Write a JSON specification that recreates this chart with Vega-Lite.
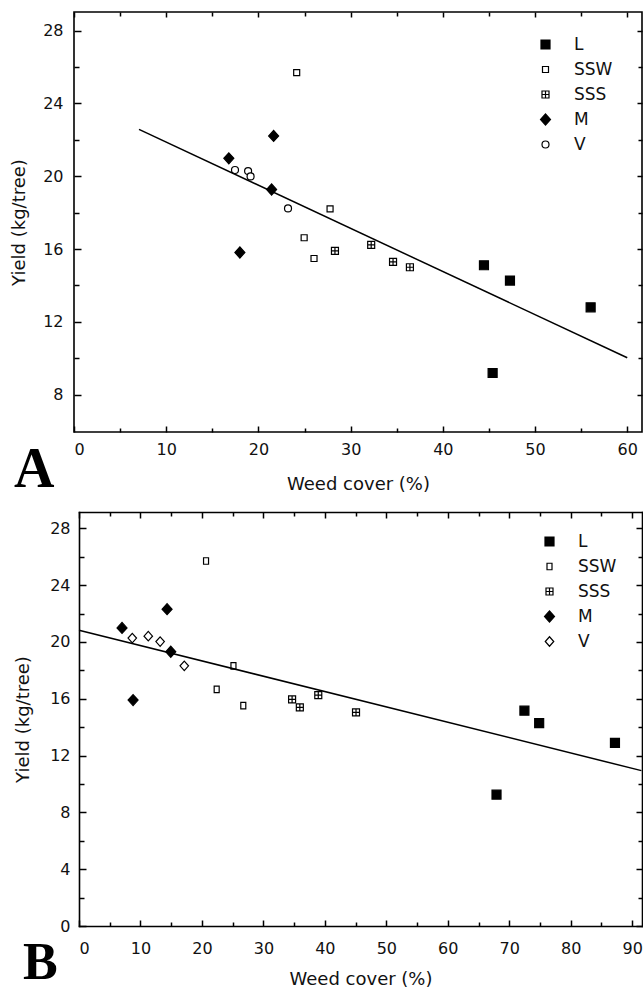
{
  "$schema": "https://vega.github.io/schema/vega-lite/v6.json",
  "padding": {"left": 9, "top": 10, "right": 1, "bottom": 0},
  "background": "white",
  "datasets": {
    "ptsA": [
      {"treatment": "L", "cover": 44.46, "yield": 15.11},
      {"treatment": "L", "cover": 47.28, "yield": 14.27},
      {"treatment": "L", "cover": 56.03, "yield": 12.8},
      {"treatment": "L", "cover": 45.4, "yield": 9.19},
      {"treatment": "SSW", "cover": 24.15, "yield": 25.69},
      {"treatment": "SSW", "cover": 27.77, "yield": 18.21},
      {"treatment": "SSW", "cover": 24.96, "yield": 16.62},
      {"treatment": "SSW", "cover": 26.03, "yield": 15.48},
      {"treatment": "SSS", "cover": 28.3, "yield": 15.9},
      {"treatment": "SSS", "cover": 32.23, "yield": 16.23},
      {"treatment": "SSS", "cover": 34.6, "yield": 15.3},
      {"treatment": "SSS", "cover": 36.43, "yield": 15.0},
      {"treatment": "M", "cover": 16.79, "yield": 20.98},
      {"treatment": "M", "cover": 21.65, "yield": 22.21},
      {"treatment": "M", "cover": 21.43, "yield": 19.27},
      {"treatment": "M", "cover": 17.99, "yield": 15.81},
      {"treatment": "V", "cover": 17.46, "yield": 20.34},
      {"treatment": "V", "cover": 18.88, "yield": 20.28},
      {"treatment": "V", "cover": 19.15, "yield": 19.99},
      {"treatment": "V", "cover": 23.21, "yield": 18.23}
    ],
    "ptsB": [
      {"treatment": "L", "cover": 72.47, "yield": 15.16},
      {"treatment": "L", "cover": 74.87, "yield": 14.29},
      {"treatment": "L", "cover": 87.2, "yield": 12.89},
      {"treatment": "L", "cover": 67.93, "yield": 9.25},
      {"treatment": "SSW", "cover": 20.67, "yield": 25.7},
      {"treatment": "SSW", "cover": 25.13, "yield": 18.32},
      {"treatment": "SSW", "cover": 22.4, "yield": 16.66},
      {"treatment": "SSW", "cover": 26.73, "yield": 15.51},
      {"treatment": "SSS", "cover": 34.67, "yield": 15.96},
      {"treatment": "SSS", "cover": 35.93, "yield": 15.39},
      {"treatment": "SSS", "cover": 38.93, "yield": 16.26},
      {"treatment": "SSS", "cover": 45.07, "yield": 15.04},
      {"treatment": "M", "cover": 7.0, "yield": 20.99},
      {"treatment": "M", "cover": 14.33, "yield": 22.31},
      {"treatment": "M", "cover": 14.93, "yield": 19.31},
      {"treatment": "M", "cover": 8.8, "yield": 15.91},
      {"treatment": "V", "cover": 8.67, "yield": 20.27},
      {"treatment": "V", "cover": 11.27, "yield": 20.41},
      {"treatment": "V", "cover": 13.2, "yield": 20.03},
      {"treatment": "V", "cover": 17.13, "yield": 18.32}
    ],
    "fitA": [
      {"cover": 7.05, "yield": 22.57},
      {"cover": 60.0, "yield": 10.03}
    ],
    "fitB": [
      {"cover": 0.0, "yield": 20.83},
      {"cover": 91.5, "yield": 10.94}
    ]
  },
  "config": {
    "view": {"stroke": "black", "strokeWidth": 1.6},
    "font": "DejaVu Sans",
    "axis": {
      "grid": false,
      "domain": false,
      "domainColor": "black",
      "domainWidth": 1.6,
      "domainCap": "square",
      "labelFont": "DejaVu Sans",
      "labelFontSize": 16,
      "labelColor": "#111111",
      "titleFont": "DejaVu Sans",
      "titleFontSize": 18,
      "titleFontWeight": "normal",
      "titleColor": "#111111",
      "tickColor": "black",
      "tickWidth": 1.5
    },
    "legend": {
      "orient": "none",
      "padding": 0,
      "labelFont": "DejaVu Sans",
      "labelFontSize": 17,
      "labelColor": "#111111",
      "symbolSize": 100,
      "symbolStrokeColor": "black",
      "symbolStrokeWidth": 1.2,
      "symbolOpacity": 1,
      "rowPadding": 7,
      "labelOffset": 20
    }
  },
  "resolve": {
    "scale": {"shape": "independent", "fill": "independent"},
    "legend": {"shape": "independent", "fill": "independent"}
  },
  "columns": 1,
  "spacing": 12,
  "concat": [
    {
      "width": 568,
      "height": 420,
      "title": {"text": "A", "orient": "bottom", "anchor": "start", "frame": "group", "dx": -60, "offset": -50, "font": "Liberation Serif", "fontWeight": "bold", "fontSize": 56, "color": "black"},
      "layer": [
        {
          "data": {"name": "ptsA"},
          "mark": {"type": "point", "filled": true, "stroke": "black", "strokeWidth": 1.2, "opacity": 1, "size": 100},
          "encoding": {
            "x": {"field": "cover", "type": "quantitative", "scale": {"domain": [0, 61.6], "nice": false, "zero": false},
              "axis": {"orient": "bottom", "values": [0, 10, 20, 30, 40, 50, 60], "ticks": false, "labelPadding": 9, "title": "Weed cover (%)", "titlePadding": 18}},
            "y": {"field": "yield", "type": "quantitative", "scale": {"domain": [5.95, 29.02], "nice": false, "zero": false},
              "axis": {"orient": "left", "values": [8, 12, 16, 20, 24, 28], "ticks": false, "labelPadding": 11, "minExtent": 32, "maxExtent": 32, "title": "Yield (kg/tree)", "titlePadding": 14}},
            "shape": {"field": "treatment", "type": "nominal",
              "scale": {"domain": ["L", "SSW", "SSS", "M", "V"],
                "range": ["M-0.9,-0.9H0.9V0.9H-0.9Z", "M-0.6,-0.6H0.6V0.6H-0.6Z", "M-0.7,-0.7H0.7V0.7H-0.7Z M-0.7,0H0.7 M0,-0.7V0.7", "M0,-1.1L1,0L0,1.1L-1,0Z", "M-0.7,0A0.7,0.7,0,1,0,0.7,0A0.7,0.7,0,1,0,-0.7,0Z"]},
              "legend": {"title": null, "legendX": 463, "legendY": 24,
                "encode": {"symbols": {"update": {"stroke": {"value": "black"}, "strokeWidth": {"value": 1.2}, "opacity": {"value": 1}}}}}},
            "fill": {"field": "treatment", "type": "nominal",
              "scale": {"domain": ["L", "SSW", "SSS", "M", "V"], "range": ["black", "white", "white", "black", "white"]},
              "legend": {"title": null, "legendX": 463, "legendY": 24,
                "encode": {"symbols": {"update": {"stroke": {"value": "black"}, "strokeWidth": {"value": 1.2}, "opacity": {"value": 1}}}}}}
          }
        },
        {
          "data": {"name": "fitA"},
          "mark": {"type": "line", "color": "black", "strokeWidth": 1.5},
          "encoding": {
            "x": {"field": "cover", "type": "quantitative", "scale": {"domain": [0, 61.6], "nice": false, "zero": false},
              "axis": {"orient": "bottom", "values": [0, 5, 10, 15, 20, 25, 30, 35, 40, 45, 50, 55, 60], "labels": false, "title": null,
                "tickSize": {"condition": {"test": "datum.value % 10 === 0", "value": -6}, "value": -4}}},
            "y": {"field": "yield", "type": "quantitative", "scale": {"domain": [5.95, 29.02], "nice": false, "zero": false},
              "axis": {"orient": "left", "values": [8, 10, 12, 14, 16, 18, 20, 22, 24, 26, 28], "labels": false, "title": null,
                "tickSize": {"condition": {"test": "datum.value % 4 === 0", "value": -7}, "value": -5}}}
          }
        },
        {
          "data": {"name": "fitA"},
          "mark": {"type": "line", "strokeOpacity": 0},
          "encoding": {
            "x": {"field": "cover", "type": "quantitative", "scale": {"domain": [0, 61.6], "nice": false, "zero": false},
              "axis": {"orient": "top", "values": [0, 5, 10, 15, 20, 25, 30, 35, 40, 45, 50, 55, 60], "labels": false, "title": null,
                "tickSize": {"condition": {"test": "datum.value % 10 === 0", "value": -5}, "value": -4}}},
            "y": {"field": "yield", "type": "quantitative", "scale": {"domain": [5.95, 29.02], "nice": false, "zero": false},
              "axis": {"orient": "right", "values": [8, 10, 12, 14, 16, 18, 20, 22, 24, 26, 28], "labels": false, "title": null,
                "tickSize": {"condition": {"test": "datum.value % 4 === 0", "value": -5}, "value": -4}}}
          }
        }
      ],
      "resolve": {"axis": {"x": "independent", "y": "independent"}}
    },
    {
      "width": 568,
      "height": 414,
      "view": {"stroke": null},
      "title": {"text": "B", "orient": "bottom", "anchor": "start", "frame": "group", "dx": -51, "offset": -50, "font": "Liberation Serif", "fontWeight": "bold", "fontSize": 52, "color": "black"},
      "layer": [
        {
          "data": {"name": "ptsB"},
          "mark": {"type": "point", "filled": true, "stroke": "black", "strokeWidth": 1.2, "opacity": 1, "size": 100},
          "encoding": {
            "x": {"field": "cover", "type": "quantitative", "scale": {"domain": [0, 91.6], "range": [5, 568], "nice": false, "zero": false},
              "axis": {"orient": "bottom", "values": [0, 10, 20, 30, 40, 50, 60, 70, 80, 90], "ticks": false, "labelPadding": 14, "title": "Weed cover (%)", "titlePadding": 14}},
            "y": {"field": "yield", "type": "quantitative", "scale": {"domain": [0, 29.15], "nice": false, "zero": false},
              "axis": {"orient": "left", "offset": -5, "values": [0, 4, 8, 12, 16, 20, 24, 28], "ticks": false, "labelPadding": 9, "minExtent": 32, "maxExtent": 32, "title": "Yield (kg/tree)", "titlePadding": 14.5}},
            "shape": {"field": "treatment", "type": "nominal",
              "scale": {"domain": ["L", "SSW", "SSS", "M", "V"],
                "range": ["M-0.9,-0.9H0.9V0.9H-0.9Z", "M-0.5,-0.65H0.5V0.65H-0.5Z", "M-0.7,-0.7H0.7V0.7H-0.7Z M-0.7,0H0.7 M0,-0.7V0.7", "M0,-1.1L1,0L0,1.1L-1,0Z", "M0,-0.95L0.85,0L0,0.95L-0.85,0Z"]},
              "legend": {"title": null, "legendX": 467, "legendY": 21,
                "encode": {"symbols": {"update": {"stroke": {"value": "black"}, "strokeWidth": {"value": 1.2}, "opacity": {"value": 1}}}}}},
            "fill": {"field": "treatment", "type": "nominal",
              "scale": {"domain": ["L", "SSW", "SSS", "M", "V"], "range": ["black", "white", "white", "black", "white"]},
              "legend": {"title": null, "legendX": 467, "legendY": 21,
                "encode": {"symbols": {"update": {"stroke": {"value": "black"}, "strokeWidth": {"value": 1.2}, "opacity": {"value": 1}}}}}}
          }
        },
        {
          "data": {"name": "fitB"},
          "mark": {"type": "line", "color": "black", "strokeWidth": 1.5},
          "encoding": {
            "x": {"field": "cover", "type": "quantitative", "scale": {"domain": [0, 91.6], "range": [5, 568], "nice": false, "zero": false},
              "axis": {"orient": "bottom", "domain": true, "values": [0, 5, 10, 15, 20, 25, 30, 35, 40, 45, 50, 55, 60, 65, 70, 75, 80, 85, 90], "labels": false, "title": null,
                "tickSize": {"condition": {"test": "datum.value % 10 === 0", "value": -6}, "value": -4}}},
            "y": {"field": "yield", "type": "quantitative", "scale": {"domain": [0, 29.15], "nice": false, "zero": false},
              "axis": {"orient": "left", "offset": -5, "domain": true, "values": [0, 2, 4, 6, 8, 10, 12, 14, 16, 18, 20, 22, 24, 26, 28], "labels": false, "title": null,
                "tickSize": {"condition": {"test": "datum.value % 4 === 0", "value": -7}, "value": -5}}}
          }
        },
        {
          "data": {"name": "fitB"},
          "mark": {"type": "line", "strokeOpacity": 0},
          "encoding": {
            "x": {"field": "cover", "type": "quantitative", "scale": {"domain": [0, 91.6], "range": [5, 568], "nice": false, "zero": false},
              "axis": {"orient": "top", "domain": true, "values": [0, 5, 10, 15, 20, 25, 30, 35, 40, 45, 50, 55, 60, 65, 70, 75, 80, 85, 90], "labels": false, "title": null,
                "tickSize": {"condition": {"test": "datum.value % 10 === 0", "value": -6}, "value": -4}}},
            "y": {"field": "yield", "type": "quantitative", "scale": {"domain": [0, 29.15], "nice": false, "zero": false},
              "axis": {"orient": "right", "domain": true, "values": [0, 2, 4, 6, 8, 10, 12, 14, 16, 18, 20, 22, 24, 26, 28], "labels": false, "title": null,
                "tickSize": {"condition": {"test": "datum.value % 4 === 0", "value": -6}, "value": -4}}}
          }
        }
      ],
      "resolve": {"axis": {"x": "independent", "y": "independent"}}
    }
  ]
}
